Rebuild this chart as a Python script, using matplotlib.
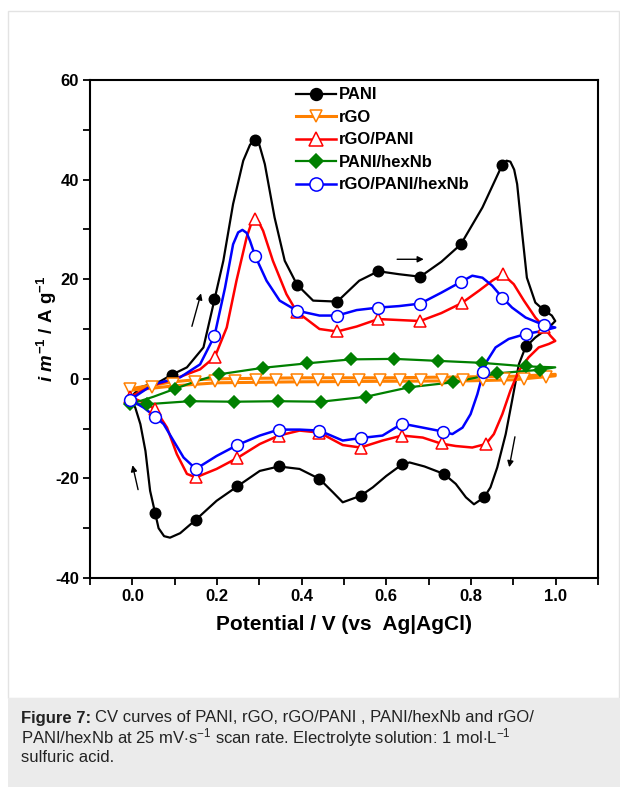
import matplotlib
matplotlib.use('Agg')
import matplotlib.pyplot as plt
from matplotlib.lines import Line2D
from matplotlib.patches import Rectangle
from matplotlib.ticker import MultipleLocator

plt.rcParams['font.family'] = ['Liberation Sans', 'DejaVu Sans']
plt.rcParams['mathtext.fontset'] = 'custom'
plt.rcParams['mathtext.rm'] = 'Liberation Sans'
plt.rcParams['mathtext.it'] = 'Liberation Sans:italic:bold'
plt.rcParams['mathtext.bf'] = 'Liberation Sans:bold'
plt.rcParams['axes.unicode_minus'] = False

# PANI (line path: anodic sweep then cathodic sweep)
pani_v = [-0.005, 0.019, 0.066, 0.093, 0.129, 0.168, 0.194, 0.215, 0.238, 0.262, 0.278, 0.289, 0.3,
          0.313, 0.336, 0.36, 0.389, 0.427, 0.484, 0.536, 0.581, 0.63, 0.68, 0.73, 0.776, 0.827, 0.874,
          0.884, 0.893, 0.902, 0.909, 0.921, 0.932, 0.952, 0.972, 0.991, 0.999, 0.984, 0.952, 0.929,
          0.913, 0.897, 0.882, 0.862, 0.846, 0.831, 0.807, 0.788, 0.764, 0.736, 0.69, 0.655, 0.637,
          0.6, 0.568, 0.539, 0.497, 0.474, 0.442, 0.395, 0.346, 0.301, 0.248, 0.199, 0.15, 0.113,
          0.089, 0.075, 0.062, 0.054, 0.042, 0.031, 0.019, 0.007, -0.005]
pani_i = [-3.8, -1.7, -0.5, 0.8, 2.3, 6.3, 15.9, 23.7, 35.1, 43.8, 47.0, 48.0, 47.0,
          43.1, 32.4, 23.7, 18.9, 15.7, 15.5, 19.7, 21.6, 21.0, 20.5, 23.5, 27.0, 34.4, 43.0,
          43.8, 43.6, 42.0, 39.1, 29.1, 20.3, 15.3, 13.8, 12.7, 11.6, 10.3, 8.3, 6.4,
          2.9, -4.4, -11.1, -17.8, -21.8, -23.8, -25.2, -23.8, -21.1, -19.1, -17.6, -16.8, -17.2,
          -19.5, -21.8, -23.5, -24.8, -22.8, -20.1, -18.1, -17.6, -18.5, -21.6, -24.5, -28.3, -31.0,
          -31.9, -31.6, -30.0, -27.0, -22.5, -14.5, -9.1, -5.8, -4.0]
pani_mv = [0.093, 0.192, 0.29, 0.389, 0.484, 0.581, 0.68, 0.777, 0.874, 0.972,
           0.929, 0.831, 0.736, 0.637, 0.539, 0.442, 0.346, 0.248, 0.15, 0.054]
pani_mi = [0.8, 16.0, 48.0, 18.9, 15.5, 21.6, 20.5, 27.1, 43.0, 13.8,
           6.5, -23.7, -19.2, -17.1, -23.5, -20.1, -17.6, -21.6, -28.3, -27.0]

# rGO
rgo_v = [-0.005, 0.046, 0.097, 0.148, 0.2, 0.3, 0.4, 0.5, 0.6, 0.7, 0.8, 0.9, 0.999,
         0.999, 0.9, 0.8, 0.6, 0.4, 0.2, 0.1, 0.046, -0.005]
rgo_i = [-2.0, -1.3, -0.6, -0.2, 0.0, 0.1, 0.2, 0.2, 0.2, 0.3, 0.4, 0.5, 0.9,
         0.6, -0.2, -0.4, -0.5, -0.6, -0.8, -1.4, -1.9, -2.3]
rgo_mv = [-0.005, 0.046, 0.097, 0.148, 0.195, 0.242, 0.293, 0.34, 0.388, 0.438, 0.485,
          0.536, 0.584, 0.633, 0.682, 0.731, 0.78, 0.828, 0.878, 0.926, 0.976]
rgo_mi = [-2.0, -1.6, -1.0, -0.7, -0.5, -0.4, -0.3, -0.3, -0.3, -0.3, -0.3,
          -0.3, -0.3, -0.3, -0.3, -0.3, -0.2, -0.2, -0.1, 0.0, 0.3]

# rGO/PANI
rgopani_v = [-0.005, 0.05, 0.097, 0.16, 0.195, 0.223, 0.246, 0.27, 0.281, 0.29, 0.299, 0.309, 0.332,
             0.364, 0.388, 0.442, 0.484, 0.53, 0.581, 0.63, 0.68, 0.73, 0.778, 0.819, 0.85, 0.875,
             0.901, 0.925, 0.952, 0.972, 0.988, 0.999, 0.984, 0.96, 0.936, 0.913, 0.893, 0.874, 0.854,
             0.835, 0.803, 0.764, 0.729, 0.686, 0.637, 0.591, 0.539, 0.497, 0.442, 0.395, 0.346, 0.301,
             0.248, 0.199, 0.15, 0.129, 0.105, 0.082, 0.054, 0.027, -0.005]
rgopani_i = [-3.6, -1.3, -0.1, 1.9, 4.4, 10.3, 19.7, 28.4, 31.2, 32.0, 31.4, 29.7, 23.7,
             17.0, 13.5, 10.0, 9.5, 10.5, 12.0, 11.8, 11.6, 13.2, 15.2, 17.7, 19.7, 21.0,
             19.0, 15.7, 12.3, 10.4, 8.6, 7.6, 7.0, 6.3, 4.3, 1.6, -2.4, -7.1, -11.1,
             -13.1, -13.8, -13.5, -13.0, -11.8, -11.4, -12.4, -13.8, -13.3, -10.8, -10.4, -11.4, -13.1,
             -15.9, -18.1, -19.8, -19.1, -15.1, -9.8, -6.1, -4.8, -3.6]
rgopani_mv = [-0.005, 0.195, 0.29, 0.388, 0.484, 0.581, 0.68, 0.778, 0.875, 0.972,
              0.835, 0.731, 0.637, 0.539, 0.442, 0.346, 0.248, 0.15, 0.054]
rgopani_mi = [-3.6, 4.4, 32.0, 13.5, 9.5, 12.0, 11.6, 15.2, 21.0, 10.4,
              -13.1, -12.9, -11.4, -13.8, -10.8, -11.4, -15.9, -19.8, -6.1]

# PANI/hexNb
panihex_v = [-0.005, 0.05, 0.101, 0.15, 0.205, 0.308, 0.412, 0.517, 0.619, 0.722, 0.826, 0.929, 0.999,
             0.962, 0.862, 0.758, 0.654, 0.552, 0.446, 0.344, 0.241, 0.136, 0.035, -0.005]
panihex_i = [-5.1, -3.6, -2.0, -0.5, 0.9, 2.2, 3.1, 3.9, 4.0, 3.6, 3.2, 2.5, 2.3,
             1.8, 1.1, -0.7, -1.7, -3.6, -4.6, -4.5, -4.6, -4.5, -5.1, -5.1]
panihex_mv = [-0.005, 0.101, 0.205, 0.308, 0.412, 0.517, 0.619, 0.722, 0.826, 0.929,
              0.962, 0.862, 0.758, 0.654, 0.552, 0.446, 0.344, 0.241, 0.136, 0.035]
panihex_mi = [-5.1, -2.0, 0.9, 2.2, 3.1, 3.9, 4.0, 3.6, 3.2, 2.5,
              1.8, 1.1, -0.7, -1.7, -3.6, -4.6, -4.5, -4.6, -4.5, -5.1]

# rGO/PANI/hexNb
tri_v = [-0.005, 0.05, 0.113, 0.16, 0.194, 0.219, 0.238, 0.25, 0.26, 0.27, 0.278, 0.29, 0.317, 0.348,
         0.388, 0.442, 0.484, 0.53, 0.581, 0.63, 0.68, 0.73, 0.777, 0.803, 0.827, 0.85, 0.874, 0.897,
         0.929, 0.972, 0.999, 0.968, 0.929, 0.889, 0.858, 0.838, 0.829, 0.815, 0.799, 0.78, 0.756,
         0.734, 0.686, 0.637, 0.591, 0.539, 0.497, 0.442, 0.395, 0.346, 0.301, 0.248, 0.199, 0.15,
         0.121, 0.097, 0.074, 0.054, 0.027, -0.005]
tri_i = [-4.2, -1.1, 0.3, 2.9, 8.6, 18.3, 27.0, 29.4, 29.9, 29.3, 27.7, 24.7, 19.7, 15.7,
         13.7, 12.7, 12.7, 13.8, 14.3, 14.6, 15.1, 17.3, 19.5, 20.7, 20.3, 18.7, 16.3, 14.3,
         12.3, 10.8, 10.3, 9.6, 9.0, 8.0, 6.3, 3.6, 1.3, -3.1, -7.1, -9.8, -11.1,
         -10.6, -9.8, -9.0, -11.4, -11.9, -12.4, -10.4, -10.2, -10.2, -11.4, -13.3, -15.5, -18.1,
         -15.8, -12.4, -9.1, -7.6, -5.8, -4.2]
tri_mv = [-0.005, 0.194, 0.29, 0.388, 0.484, 0.581, 0.68, 0.777, 0.874, 0.972,
          0.929, 0.829, 0.734, 0.637, 0.539, 0.442, 0.346, 0.248, 0.15, 0.054]
tri_mi = [-4.2, 8.6, 24.7, 13.7, 12.7, 14.3, 15.1, 19.5, 16.3, 10.8,
          9.0, 1.3, -10.6, -9.0, -11.9, -10.4, -10.2, -13.3, -18.1, -7.6]

labels = ['PANI', 'rGO', 'rGO/PANI', 'PANI/hexNb', 'rGO/PANI/hexNb']

fig = plt.figure(figsize=(6.2, 7.87), dpi=100)

# frame around the figure panel and the caption box
fig.patches.append(Rectangle((8 / 620, 1 - 698 / 787), 611 / 620, 687 / 787, transform=fig.transFigure,
                             facecolor='white', edgecolor='#e3e3e3', lw=1, zorder=-10))
fig.patches.append(Rectangle((8 / 620, 0), 612 / 620, 89 / 787, transform=fig.transFigure,
                             facecolor='#ebebeb', edgecolor='none', zorder=-10))

ax = fig.add_axes([90 / 620, 1 - 578 / 787, 508 / 620, 498 / 787])
ax.patch.set_alpha(0)

styles = [
    dict(color='black', marker='o', mfc='black', mec='black', ms=7.5, lw=1.6),
    dict(color='#ff8000', marker='v', mfc='white', mec='#ff8000', ms=8, lw=2.2),
    dict(color='#ff0000', marker='^', mfc='white', mec='#ff0000', ms=9, lw=1.8),
    dict(color='#008000', marker='D', mfc='#008000', mec='#008000', ms=6, lw=1.6),
    dict(color='#0000ff', marker='o', mfc='white', mec='#0000ff', ms=8.5, lw=1.8),
]
series = [
    (pani_v, pani_i, pani_mv, pani_mi),
    (rgo_v, rgo_i, rgo_mv, rgo_mi),
    (rgopani_v, rgopani_i, rgopani_mv, rgopani_mi),
    (panihex_v, panihex_i, panihex_mv, panihex_mi),
    (tri_v, tri_i, tri_mv, tri_mi),
]

handles = []
for (v, i, mv, mi), st, lab in zip(series, styles, labels):
    ax.plot(v, i, color=st['color'], lw=st['lw'], zorder=2, solid_joinstyle='round')
    ax.plot(mv, mi, linestyle='none', marker=st['marker'], ms=st['ms'], mfc=st['mfc'],
            mec=st['mec'], mew=1.1, zorder=3)
    handles.append(Line2D([], [], color=st['color'], lw=st['lw'], marker=st['marker'], ms=st['ms'] + 1,
                          mfc=st['mfc'], mec=st['mec'], mew=1.1))

# sweep direction arrows
arrows = [((0.139, 10.0), (0.164, 17.7)), ((0.619, 24.0), (0.695, 24.0)),
          ((0.905, -11.1), (0.889, -18.3)), ((0.015, -22.8), (-0.001, -16.8))]
for start, end in arrows:
    ax.annotate('', xy=end, xytext=start,
                arrowprops=dict(arrowstyle='-|>', color='black', lw=1.0, mutation_scale=9))

ax.set_xlim(-0.1, 1.1)
ax.set_ylim(-40, 60)
ax.xaxis.set_major_locator(MultipleLocator(0.2))
ax.xaxis.set_minor_locator(MultipleLocator(0.1))
ax.yaxis.set_major_locator(MultipleLocator(20))
ax.yaxis.set_minor_locator(MultipleLocator(10))
ax.tick_params(which='both', direction='out', length=5, width=1.3, labelsize=12, pad=3)
for lab in ax.get_xticklabels() + ax.get_yticklabels():
    lab.set_fontweight('bold')
for sp in ax.spines.values():
    sp.set_linewidth(1.5)

ax.set_xlabel('Potential / V (vs  Ag|AgCl)', fontsize=15, fontweight='bold', labelpad=8)
ax.set_ylabel(r'$\mathit{i}\ \mathit{m}^{\mathbf{-1}}$ / A g$^{\mathbf{-1}}$', fontsize=13.5,
              fontweight='bold', labelpad=-3)

ax.legend(handles, labels, loc='upper left', bbox_to_anchor=(0.405, 0.985), frameon=False,
          prop=dict(size=12, weight='bold'), handlelength=2.4, handletextpad=0.2,
          labelspacing=0.45, borderpad=0, borderaxespad=0)

caption_lines = [
    (r'CV curves of PANI, rGO, rGO/PANI , PANI/hexNb and rGO/', 718),
    (r'PANI/hexNb at 25 mV$\cdot$s$^{\mathrm{-1}}$ scan rate. Electrolyte solution: 1 mol$\cdot$L$^{\mathrm{-1}}$', 738),
    ('sulfuric acid.', 758),
]
t = fig.text(21 / 620, 1 - 718 / 787, 'Figure 7:', fontsize=12, fontweight='bold', color='#222222',
             va='center')
fig.canvas.draw()
bb = t.get_window_extent()
fig.text(bb.x1 / 620 + 4 / 620, 1 - 718 / 787, caption_lines[0][0], fontsize=12, color='#222222',
         va='center')
for txt, y in caption_lines[1:]:
    fig.text(21 / 620, 1 - y / 787, txt, fontsize=12, color='#222222', va='center')

fig.savefig('out.png', dpi=100)
